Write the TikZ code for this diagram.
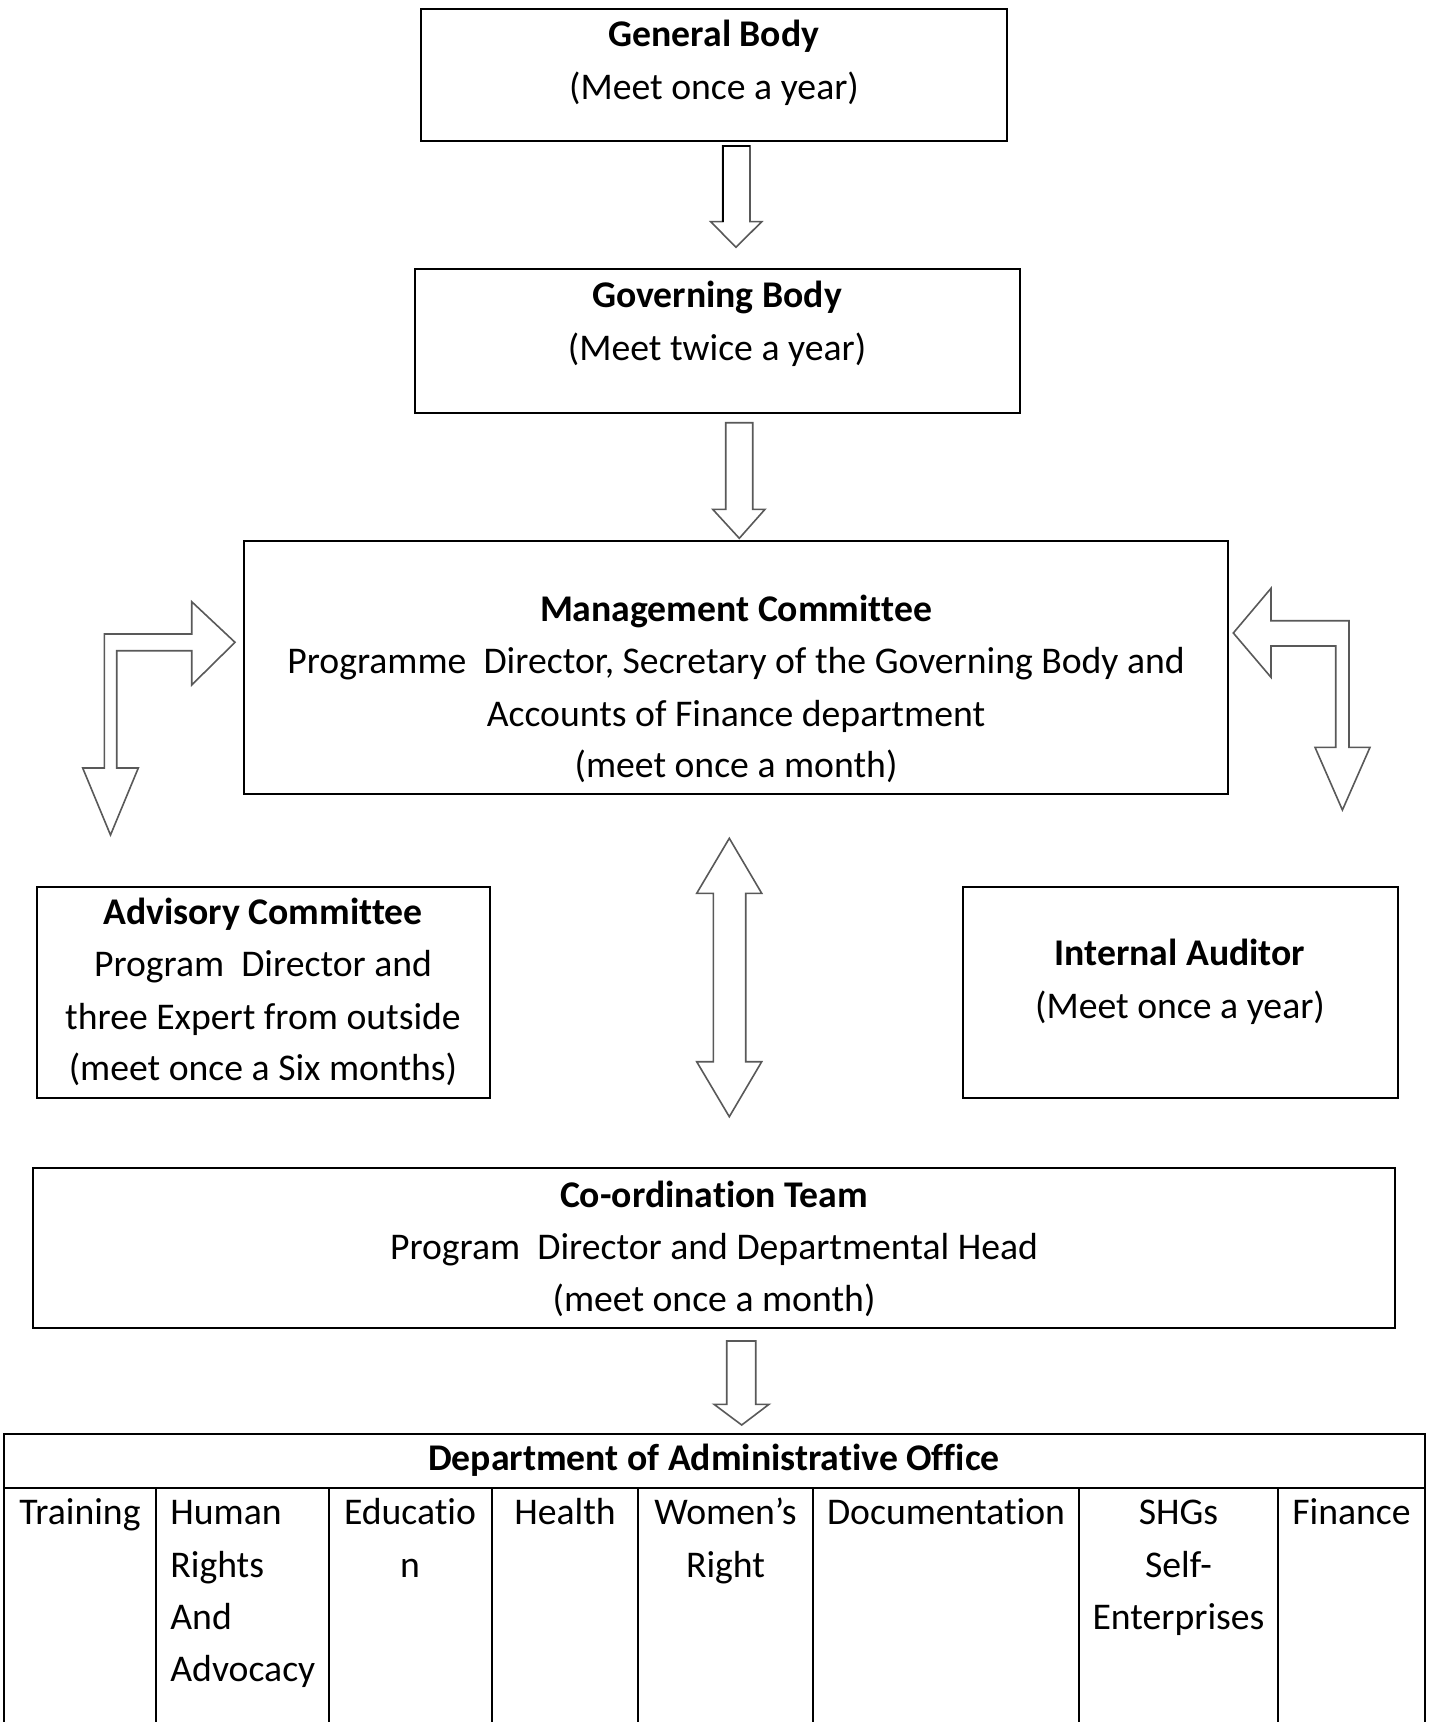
\documentclass[tikz,border=0pt]{standalone}
\usepackage{fontspec}
\setmainfont{Carlito}[Ligatures=CommonOff]
\usetikzlibrary{fit}
\begin{document}
\begin{tikzpicture}[x=0.5pt,y=-0.5pt,
  box/.style={draw=black, line width=1.2pt, inner sep=0pt},
  txt/.style={anchor=base, inner sep=0pt, font=\fontsize{18.85}{22}\selectfont},
  btxt/.style={anchor=base, inner sep=0pt, font=\fontsize{18.85}{22}\selectfont\bfseries},
  ltxt/.style={anchor=base west, inner sep=0pt, font=\fontsize{18.85}{22}\selectfont},
  blk/.style={draw=black!65, line width=0.8pt, fill=white, line join=miter},
  tbl/.style={draw=black, line width=1.2pt}]
\fill[white] (0,0) rectangle (1432,1722);
\useasboundingbox (0,0) rectangle (1432,1722);

% boxes
\node[box, fit={(421,9) (1007,141)}] (gen) {};
\node[box, fit={(415,269) (1020,413)}] (gov) {};
\node[box, fit={(244,541) (1228,794)}] (mgmt) {};
\node[box, fit={(37,887) (490,1098)}] (adv) {};
\node[box, fit={(963,887) (1398,1098)}] (aud) {};
\node[box, fit={(33,1168) (1395,1328)}] (coord) {};

% texts
\node[btxt] (t1) at (714,47) {General Body};
\node[txt] (t2) at (714,100) {(Meet once a year)};
\node[btxt] (t3) at (717,307) {Governing Body};
\node[txt] (t4) at (717,360) {(Meet twice a year)};
\node[btxt] (t5) at (736,621) {Management Committee};
\node[txt] (t6) at (736,673) {Programme\ \ Director, Secretary of the Governing Body and};
\node[txt] (t7) at (736,726) {Accounts of Finance department};
\node[txt] (t8) at (736,777) {(meet once a month)};
\node[btxt] (t9) at (263,924) {Advisory Committee};
\node[txt] (t10) at (263,976) {Program\ \ Director and};
\node[txt] (t11) at (263,1029) {three Expert from outside};
\node[txt] (t12) at (263,1080) {(meet once a Six months)};
\node[btxt] (t13) at (1180,965) {Internal Auditor};
\node[txt] (t14) at (1180,1018) {(Meet once a year)};
\node[btxt] (t15) at (714,1207) {Co-ordination Team};
\node[txt] (t16) at (714,1259) {Program\ \ Director and Departmental Head};
\node[txt] (t17) at (714,1311) {(meet once a month)};

% arrows
\draw[blk] (722.7,146) -- (750,146) -- (750,221.7) -- (761.7,221.7) -- (736,247.3)
  -- (710.7,221.7) -- (722.7,221.7) -- cycle;
\draw[black, line width=0.9pt] (722.7,221.7) -- (722.7,146) -- (750,146);
\draw[blk] (725.7,422.7) -- (752.7,422.7) -- (752.7,509.3) -- (765,509.3) -- (739.3,538.3)
  -- (712.7,509.3) -- (725.7,509.3) -- cycle;
\draw[blk] (104.3,768) -- (104.3,634) -- (191.7,634) -- (191.7,601.7) -- (235,642.3)
  -- (191.7,685) -- (191.7,650.7) -- (116.7,650.7) -- (116.7,768) -- (138.3,768)
  -- (110.5,835) -- (82.7,768) -- cycle;
\draw[blk] (1233.3,633) -- (1271,588.3) -- (1271,620.7) -- (1349,620.7) -- (1349,747.3)
  -- (1370,747.3) -- (1342.4,810) -- (1315,747.3) -- (1335.7,747.3) -- (1335.7,646)
  -- (1271,646) -- (1271,677.3) -- cycle;
\draw[blk] (729.3,838.3) -- (761.7,893.3) -- (745.7,893.3) -- (745.7,1061.7) -- (761.7,1061.7)
  -- (729.3,1116.7) -- (696.7,1061.7) -- (713.3,1061.7) -- (713.3,893.3) -- (696.7,893.3) -- cycle;
\draw[blk] (726.7,1341) -- (755.7,1341) -- (755.7,1404.3) -- (769,1404.3) -- (741.7,1425)
  -- (714,1404.3) -- (726.7,1404.3) -- cycle;

% table
\node[box, fit={(4,1434) (1425,1488)}] (dept) {};
\draw[tbl] (4,1488) -- (4,1722);
\draw[tbl] (1425,1488) -- (1425,1722);
\foreach \cx in {156,329,492,638,813,1079,1278}
  \draw[tbl] (\cx,1488) -- (\cx,1722);
\node[btxt] (th) at (714,1470) {Department of Administrative Office};
\node[txt] (c1) at (80,1524) {Training};
\node[ltxt] (c2a) at (170,1524) {Human};
\node[ltxt] (c2b) at (170,1577) {Rights};
\node[ltxt] (c2c) at (170,1629) {And};
\node[ltxt] (c2d) at (170,1681) {Advocacy};
\node[txt] (c3a) at (410,1524) {Educatio};
\node[txt] (c3b) at (410,1577) {n};
\node[txt] (c4) at (565,1524) {Health};
\node[txt] (c5a) at (725.5,1524) {Women’s};
\node[txt] (c5b) at (725.5,1577) {Right};
\node[txt] (c6) at (946,1524) {Documentation};
\node[txt] (c7a) at (1178.5,1524) {SHGs};
\node[txt] (c7b) at (1178.5,1577) {Self-};
\node[txt] (c7c) at (1178.5,1629) {Enterprises};
\node[txt] (c8) at (1351.5,1524) {Finance};
\end{tikzpicture}
\end{document}
